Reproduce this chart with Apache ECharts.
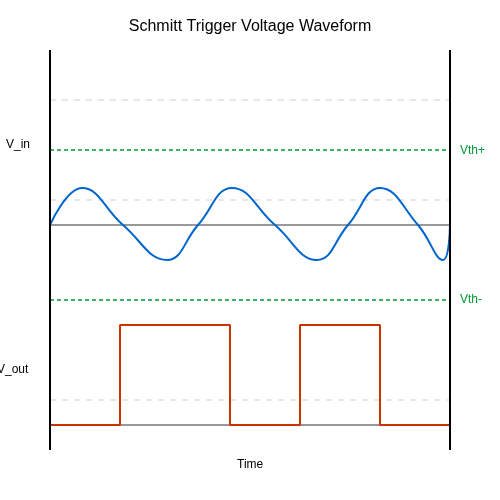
<!DOCTYPE html>
<html><head><meta charset="utf-8">
<script src="https://cdn.jsdelivr.net/npm/echarts@6/dist/echarts.min.js"></script>
<style>html,body{margin:0;padding:0;background:#fff}#c{width:500px;height:500px}</style>
</head><body><div id="c"></div>
<script>
const vinX = [0, 32, 73, 117, 148, 182, 225, 267, 298, 330, 368, 393, 400];
const vinY = [25, 62, 25, -10, 25, 62, 25, -10, 25, 62, 25, -10, 25];
const voutX = [0, 70, 70, 180, 180, 250, 250, 330, 330, 400];
const voutY = [-175, -175, -75, -75, -175, -175, -75, -75, -175, -175];
const gridDashed = [150, 50, -150];
const baselines = [25, -175];
const vthHigh = 100, vthLow = -50;

const chart = echarts.init(document.getElementById('c'));
const hline = (y, color, type, w) => ({
  type: 'line', data: [[0, y], [400, y]], symbol: 'none', silent: true,
  lineStyle: { color, type, width: w }, z: 1
});
const series = [];
gridDashed.forEach(y => series.push(hline(y, '#e0e0e0', [6, 6], 1.5)));
baselines.forEach(y => series.push(hline(y, '#777777', 'solid', 1.5)));
series.push(hline(vthHigh, '#009933', [4, 3], 1.5));
series.push(hline(vthLow, '#009933', [4, 3], 1.5));
series.push({ type: 'line', data: [[0, -200], [0, 200]], symbol: 'none', lineStyle: { color: '#000', width: 2 }, z: 5 });
series.push({ type: 'line', data: [[400, -200], [400, 200]], symbol: 'none', lineStyle: { color: '#000', width: 2 }, z: 5 });
series.push({ type: 'line', data: vinX.map((x, i) => [x, vinY[i]]), smooth: 0.45, symbol: 'none', lineStyle: { color: '#0066cc', width: 2 }, z: 4 });
series.push({ type: 'line', data: voutX.map((x, i) => [x, voutY[i]]), symbol: 'none', lineStyle: { color: '#cc3300', width: 2 }, z: 4 });

chart.setOption({
  animation: false,
  title: { text: 'Schmitt Trigger Voltage Waveform', left: 'center', top: 14, textStyle: { fontFamily: 'Liberation Sans, Arial', fontSize: 16, fontWeight: 'normal', color: '#000' } },
  grid: { left: 50, right: 50, top: 50, bottom: 50 },
  xAxis: { type: 'value', min: 0, max: 400, show: false },
  yAxis: { type: 'value', min: -200, max: 200, show: false },
  series,
  graphic: [
    { type: 'text', left: 6, top: 139, style: { text: 'V_in', font: '12px Liberation Sans, Arial', fill: '#000' } },
    { type: 'text', left: -3, top: 364, style: { text: 'V_out', font: '12px Liberation Sans, Arial', fill: '#000' } },
    { type: 'text', left: 460, top: 145, style: { text: 'Vth+', font: '12px Liberation Sans, Arial', fill: '#009933' } },
    { type: 'text', left: 460, top: 294, style: { text: 'Vth-', font: '12px Liberation Sans, Arial', fill: '#009933' } },
    { type: 'text', left: 237, top: 459, style: { text: 'Time', font: '12px Liberation Sans, Arial', fill: '#000' } }
  ]
});
</script></body></html>
